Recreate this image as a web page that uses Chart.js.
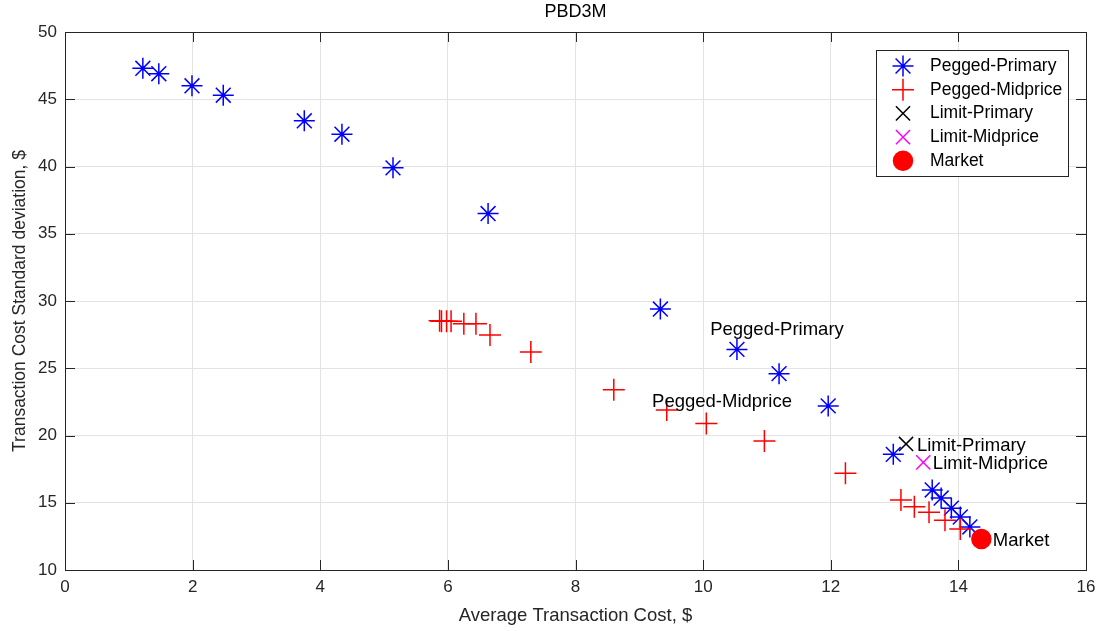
<!DOCTYPE html>
<html>
<head>
<meta charset="utf-8">
<title>PBD3M</title>
<script src="https://cdn.jsdelivr.net/npm/chart.js@4.4.1/dist/chart.umd.min.js"></script>
<style>
  html, body { margin: 0; padding: 0; background: #fff; }
  canvas { display: block; }
</style>
</head>
<body>
<canvas id="chart" width="1104" height="631"></canvas>
<script>
// ── Data ──────────────────────────────────────────────────────
const primaryX = [1.22, 1.47, 1.99, 2.48, 3.75, 4.34, 5.14, 6.63, 9.33, 10.53, 11.19, 11.96, 12.98, 13.59, 13.73, 13.89, 14.03, 14.18];
const primaryY = [47.3, 46.9, 46.0, 45.3, 43.4, 42.4, 39.9, 36.5, 29.4, 26.4, 24.6, 22.2, 18.6, 15.95, 15.35, 14.6, 13.94, 13.2];

const midX = [5.87, 5.90, 5.98, 6.05, 6.25, 6.44, 6.66, 7.30, 8.60, 9.43, 10.05, 10.96, 12.23, 13.10, 13.31, 13.54, 13.79, 14.03];
const midY = [28.53, 28.5, 28.5, 28.5, 28.3, 28.3, 27.47, 26.2, 23.4, 21.9, 20.9, 19.6, 17.2, 15.2, 14.7, 14.3, 13.7, 13.05];

const limitPrimaryX = [13.18];
const limitPrimaryY = [19.37];
const limitMidX = [13.45];
const limitMidY = [18.0];
const marketX = [14.36];
const marketY = [12.3];

const seriesNames = ['Pegged-Primary', 'Pegged-Midprice', 'Limit-Primary', 'Limit-Midprice', 'Market'];

// text labels placed next to the points (data coords, left aligned)
const noteLabels = ['Pegged-Primary', 'Pegged-Midprice', 'Limit-Primary', 'Limit-Midprice', 'Market'];
const noteX = [10.11, 9.20, 13.35, 13.60, 14.54];
const noteY = [27.84, 22.5, 19.2, 17.9, 12.2];

const xTicks = [0, 2, 4, 6, 8, 10, 12, 14, 16];
const yTicks = [10, 15, 20, 25, 30, 35, 40, 45, 50];

const toPoints = (xs, ys) => xs.map((v, i) => ({ x: v, y: ys[i] }));

// ── Look ──────────────────────────────────────────────────────
const FONT     = "'Liberation Sans', Arial, Helvetica, sans-serif";
const AXIS_COL = '#262626';
const GRID_COL = '#e3e3e3';
const TICK_LEN = 10;

// ── MATLAB-ish box, inward ticks ──────────────────────────────
const axesBox = {
  id: 'axesBox',
  beforeDatasetsDraw(chart) {
    const { ctx, chartArea: { left, right, top, bottom }, scales: { x, y } } = chart;
    ctx.save();
    ctx.strokeStyle = AXIS_COL;
    ctx.lineWidth = 1;
    ctx.beginPath();
    xTicks.forEach(v => {
      const px = Math.round(x.getPixelForValue(v)) + 0.5;
      ctx.moveTo(px, bottom); ctx.lineTo(px, bottom - TICK_LEN);
      ctx.moveTo(px, top);    ctx.lineTo(px, top + TICK_LEN);
    });
    yTicks.forEach(v => {
      const py = Math.round(y.getPixelForValue(v)) + 0.5;
      ctx.moveTo(left, py);  ctx.lineTo(left + TICK_LEN, py);
      ctx.moveTo(right, py); ctx.lineTo(right - TICK_LEN, py);
    });
    ctx.stroke();
    ctx.strokeRect(Math.round(left) + 0.5, Math.round(top) + 0.5,
                   Math.round(right - left), Math.round(bottom - top));
    ctx.restore();
  }
};

// ── Point notes + boxed legend ────────────────────────────────
const notesAndLegend = {
  id: 'notesAndLegend',
  afterDraw(chart) {
    const { ctx, scales: { x, y } } = chart;
    ctx.save();

    // notes
    ctx.fillStyle = '#000';
    ctx.font = `18.5px ${FONT}`;
    ctx.textAlign = 'left';
    ctx.textBaseline = 'middle';
    noteLabels.forEach((t, i) => {
      ctx.fillText(t, x.getPixelForValue(noteX[i]), y.getPixelForValue(noteY[i]));
    });

    // legend box
    const bx = 876, by = 50, bw = 192, bh = 126;
    ctx.fillStyle = '#fff';
    ctx.fillRect(bx, by, bw, bh);
    ctx.strokeStyle = AXIS_COL;
    ctx.lineWidth = 1;
    ctx.strokeRect(bx + 0.5, by + 0.5, bw, bh);

    ctx.font = `17.5px ${FONT}`;
    chart.data.datasets.forEach((ds, i) => {
      const cy = by + 16 + i * 23.7;
      ctx.strokeStyle = ds.borderColor;
      ctx.fillStyle   = ds.backgroundColor;
      ctx.lineWidth   = ds.borderWidth;
      Chart.helpers.drawPoint(ctx, {
        pointStyle: ds.pointStyle,
        radius: ds.pointRadius,
        borderWidth: ds.borderWidth,
        rotation: 0,
      }, bx + 27, cy);
      ctx.fillStyle = '#000';
      ctx.fillText(ds.label, bx + 54, cy);
    });
    ctx.restore();
  }
};

const markerSet = (label, data, style, color, radius, order, fill) => ({
  label,
  data,
  pointStyle:      style,
  pointRadius:     radius,
  pointHoverRadius: radius,
  borderColor:     color,
  backgroundColor: fill || color,
  borderWidth:     1.5,
  showLine:        false,
  order,
});

new Chart(document.getElementById('chart'), {
  type: 'scatter',
  data: {
    datasets: [
      markerSet(seriesNames[0], toPoints(primaryX, primaryY), 'star',     '#0000ff', 10.5, 5),
      markerSet(seriesNames[1], toPoints(midX, midY),         'cross',    '#ff0000', 11,   4),
      markerSet(seriesNames[2], toPoints(limitPrimaryX, limitPrimaryY), 'crossRot', '#000000', 10, 3),
      markerSet(seriesNames[3], toPoints(limitMidX, limitMidY),         'crossRot', '#ff00ff', 10, 2),
      markerSet(seriesNames[4], toPoints(marketX, marketY),   'circle',   '#ff0000', 9.5,  1),
    ]
  },
  options: {
    responsive: false,
    animation:  false,
    events:     [],
    layout: { padding: { top: 0, right: 18, bottom: 0, left: 0 } },
    plugins: {
      legend:  { display: false },
      tooltip: { enabled: false },
      title: {
        display:  true,
        text:     'PBD3M',
        fullSize: false,
        color:    '#000',
        font:     { family: FONT, size: 18, weight: 'normal' },
        padding:  { top: 1.5, bottom: 8.9 },
      },
    },
    scales: {
      x: {
        type: 'linear',
        min: xTicks[0],
        max: xTicks[xTicks.length - 1],
        afterFit: (s) => { s.height = 61; },
        grid:   { color: GRID_COL, drawTicks: false },
        border: { display: false },
        ticks: {
          stepSize: xTicks[1] - xTicks[0],
          color: AXIS_COL,
          padding: 7,
          maxRotation: 0,
          font: { family: FONT, size: 17 },
        },
        title: {
          display: true,
          text: 'Average Transaction Cost, $',
          color: AXIS_COL,
          font: { family: FONT, size: 18.5 },
          padding: { top: 0, bottom: 3.5 },
        },
      },
      y: {
        type: 'linear',
        min: yTicks[0],
        max: yTicks[yTicks.length - 1],
        afterFit: (s) => { s.width = 65; },
        grid:   { color: GRID_COL, drawTicks: false },
        border: { display: false },
        ticks: {
          stepSize: yTicks[1] - yTicks[0],
          color: AXIS_COL,
          padding: 8,
          font: { family: FONT, size: 17 },
        },
        title: {
          display: true,
          text: 'Transaction Cost Standard deviation, $',
          color: AXIS_COL,
          font: { family: FONT, size: 17.5 },
          padding: { top: 10, bottom: 0 },
        },
      },
    },
  },
  plugins: [axesBox, notesAndLegend],
});
</script>
</body>
</html>
